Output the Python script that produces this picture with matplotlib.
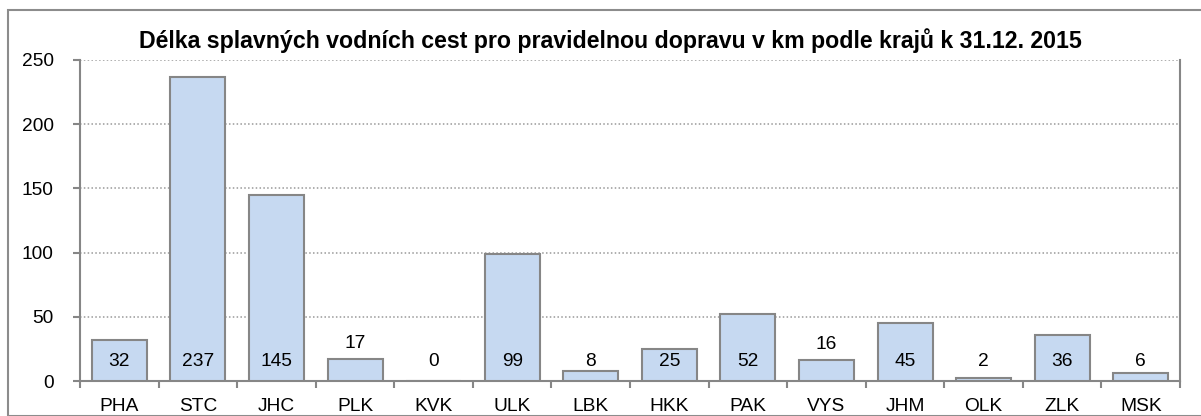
import numpy as np
import matplotlib
matplotlib.use("Agg")
import matplotlib.pyplot as plt
from matplotlib.patches import Rectangle

# data
regions = ["PHA", "STC", "JHC", "PLK", "KVK", "ULK", "LBK", "HKK",
           "PAK", "VYS", "JHM", "OLK", "ZLK", "MSK"]
km = [32, 237, 145, 17, 0, 99, 8, 25, 52, 16, 45, 2, 36, 6]
title = "Délka splavných vodních cest pro pravidelnou dopravu v km podle krajů k 31.12. 2015"

plt.rcParams['font.family'] = ['Liberation Sans', 'DejaVu Sans']

W, H = 1201, 416
fig = plt.figure(figsize=(W / 100, H / 100), dpi=100)
fig.patch.set_facecolor("white")

# outer frame
fig.add_artist(Rectangle((8 / W, 0), 1.2, (H - 10) / H, transform=fig.transFigure,
                         fill=False, edgecolor="#8c8c8c", linewidth=1.5, clip_on=False))

ax = fig.add_axes([80 / W, (H - 381) / H, 1100 / W, 321 / H])
gray = "#868686"
x = np.arange(len(regions))
ax.bar(x, km, width=0.7, color="#c6d9f1", edgecolor=gray, linewidth=1.5, zorder=3)

ax.set_xlim(-0.5, len(regions) - 0.5)
ax.set_ylim(0, 250)
ax.set_yticks(np.arange(0, 251, 50))
ax.yaxis.grid(True, linestyle=(0, (1, 1.5)), color="#999999", linewidth=1.1, zorder=0)
ax.set_axisbelow(True)

ax.set_xticks(x)
ax.set_xticklabels(regions)
ax.set_xticks(np.arange(-0.5, len(regions), 1), minor=True)
ax.tick_params(axis="x", which="major", length=0, pad=12.5, labelsize=13.8)
ax.tick_params(axis="x", which="minor", length=5, color=gray, width=1.5)
ax.tick_params(axis="y", length=5, color=gray, width=1.5, pad=14, labelsize=13.8)

for s in ["left", "bottom", "right"]:
    ax.spines[s].set_color(gray)
    ax.spines[s].set_linewidth(1.5)
ax.spines["top"].set_visible(False)

for xi, v in zip(x, km):
    y = v + 12.5 if 12 <= v < 20 else 15.5
    ax.text(xi, y, str(v), ha="center", va="center", fontsize=13.8, zorder=4)

fig.text(610 / W, 1 - 41 / H, title, ha="center", va="center",
         fontsize=16.7, fontweight="bold")

fig.savefig("out.png", dpi=100)
